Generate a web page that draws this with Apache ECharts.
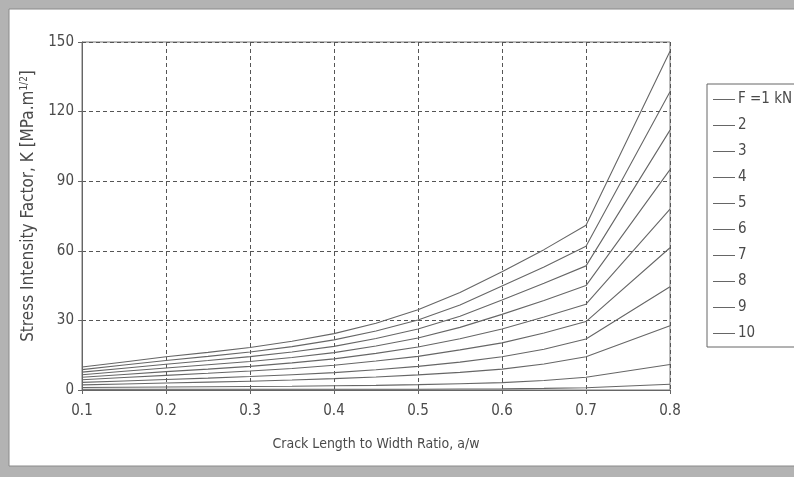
<!DOCTYPE html>
<html>
<head>
<meta charset="utf-8">
<script src="https://cdn.jsdelivr.net/npm/echarts@6/dist/echarts.min.js"></script>
<style>
  html, body { margin: 0; padding: 0; background: #fff; }
  #chart { width: 794px; height: 477px; }
</style>
</head>
<body>
<div id="chart"></div>
<script>
// Crack length to width ratio (a/w) sample points
const ratios = [0.1, 0.15, 0.2, 0.25, 0.3, 0.35, 0.4, 0.45, 0.5, 0.55, 0.6, 0.65, 0.7, 0.8];

// Stress intensity factor K [MPa.m^1/2] for each applied load
const kF1  = [0.3, 0.3, 0.3, 0.3, 0.3, 0.3, 0.3, 0.3, 0.3, 0.4, 0.5, 0.7, 1.0, 2.5];
const kF2  = [1.1, 1.2, 1.3, 1.4, 1.5, 1.6, 1.8, 2.0, 2.3, 2.7, 3.2, 4.1, 5.5, 11];
const kF3  = [2.2, 2.6, 3.0, 3.4, 3.8, 4.3, 4.9, 5.6, 6.5, 7.6, 9.0, 11.2, 14.3, 27.7];
const kF4  = [3.3, 3.9, 4.5, 5.1, 5.8, 6.6, 7.5, 8.7, 10.2, 12.0, 14.3, 17.6, 22.0, 44.5];
const kF5  = [4.4, 5.4, 6.3, 7.2, 8.2, 9.3, 10.7, 12.5, 14.5, 17.3, 20.3, 24.6, 29.5, 61.3];
const kF6  = [5.5, 6.7, 7.9, 9.0, 10.2, 11.7, 13.4, 15.8, 18.5, 22.1, 26.3, 31.5, 37.0, 78];
const kF7  = [6.6, 8.1, 9.5, 10.9, 12.3, 14.0, 16.1, 19.0, 22.4, 27.0, 32.6, 38.6, 45.0, 95];
const kF8  = [7.7, 9.4, 11.1, 12.7, 14.4, 16.4, 18.8, 22.2, 26.3, 31.8, 38.8, 46.0, 53.5, 112];
const kF9  = [8.8, 10.8, 12.7, 14.5, 16.4, 18.7, 21.6, 25.4, 30.2, 36.6, 44.8, 53.0, 62.0, 128.6];
const kF10 = [9.9, 12.1, 14.3, 16.2, 18.3, 21.0, 24.3, 28.8, 34.6, 42.0, 51.0, 60.5, 71.0, 146];

const seriesNames = ['F =1 kN', '2', '3', '4', '5', '6', '7', '8', '9', '10'];
const seriesValues = [kF1, kF2, kF3, kF4, kF5, kF6, kF7, kF8, kF9, kF10];

const textColor = '#4a4a4a';
const fontFamily = '"Liberation Sans Narrow", "Arial Narrow", "DejaVu Sans Condensed", "Liberation Sans", sans-serif';

const chart = echarts.init(document.getElementById('chart'), null, { renderer: 'canvas' });

const series = seriesNames.map((name, i) => ({
  name: name,
  type: 'line',
  symbol: 'none',
  data: ratios.map((r, j) => [r, seriesValues[i][j]]),
  lineStyle: { color: '#666', width: 1.1 },
  itemStyle: { color: '#666' },
  z: 3
}));

chart.setOption({
  animation: false,
  backgroundColor: '#b3b3b3',
  graphic: [{
    type: 'rect',
    shape: { x: 9, y: 9, width: 790, height: 457 },
    style: { fill: '#ffffff', stroke: '#8a8a8a', lineWidth: 1 },
    z: -10
  }],
  textStyle: { fontFamily: fontFamily },
  grid: {
    left: 82, right: 124, top: 42, bottom: 87,
    show: true, borderColor: '#777', borderWidth: 1, backgroundColor: 'transparent'
  },
  legend: {
    orient: 'vertical',
    left: 707, top: 84,
    padding: [8, 12, 6, 6],
    itemGap: 11,
    itemWidth: 22,
    itemHeight: 14,
    icon: 'path://M0,6.5H22V7.5H0Z',
    itemStyle: { color: '#666' },
    borderColor: '#666',
    borderWidth: 1,
    backgroundColor: '#fff',
    textStyle: { color: textColor, fontSize: 15, lineHeight: 14, fontFamily: fontFamily, padding: [0, 0, 0, -2] },
    data: seriesNames
  },
  xAxis: {
    type: 'value',
    min: 0.1, max: 0.8, interval: 0.1,
    name: 'Crack Length to Width Ratio, a/w',
    nameLocation: 'middle',
    nameGap: 47,
    nameTextStyle: { color: textColor, fontSize: 14, fontFamily: fontFamily },
    axisLine: { lineStyle: { color: '#666', width: 1 } },
    axisTick: { show: true, length: 4, lineStyle: { color: '#666' } },
    axisLabel: { color: textColor, fontSize: 15, margin: 14, formatter: v => v.toFixed(1) },
    splitLine: { show: true, lineStyle: { color: '#555', type: [4, 3], width: 1 } }
  },
  yAxis: {
    type: 'value',
    min: 0, max: 150, interval: 30,
    name: '{t0|Stress Intensity Factor, K [MPa.m}{s|1/2}{t|]}',
    nameLocation: 'middle',
    nameGap: 38,
    nameRotate: 90,
    nameTextStyle: {
      rich: {
        t0: { color: textColor, fontSize: 17, fontFamily: fontFamily, padding: [0, 0, 0, 20] },
        t: { color: textColor, fontSize: 17, fontFamily: fontFamily },
        s: { color: textColor, fontSize: 10, fontFamily: fontFamily, verticalAlign: 'top', padding: [0, 0, 8, 0] }
      }
    },
    axisLine: { show: true, lineStyle: { color: '#666', width: 1 } },
    axisTick: { show: true, length: 4, lineStyle: { color: '#666' } },
    axisLabel: { color: textColor, fontSize: 15, margin: 8 },
    splitLine: { show: true, lineStyle: { color: '#555', type: [4, 3], width: 1 } }
  },
  series: series
});
</script>
</body>
</html>
